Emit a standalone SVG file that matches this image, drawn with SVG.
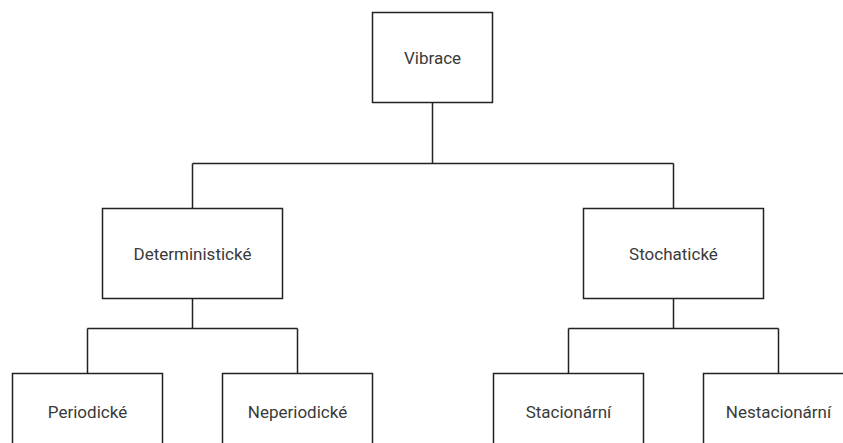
<svg xmlns="http://www.w3.org/2000/svg" width="843" height="443" viewBox="0 0 843 443">
  <style>
    .box { fill: #ffffff; stroke: #222222; stroke-width: 1.5; }
    .lbl { font-family: Roboto, "Liberation Sans", Arial, sans-serif; font-size: 17px; fill: #3a3a3a; text-anchor: middle; dominant-baseline: central; }
    .edge { fill: none; stroke: #222222; stroke-width: 1.5; }
  </style>
  <rect width="843" height="443" fill="#ffffff"/>
  <g id="connectors">
    <path class="edge" d="M432.5 102.5 V163.5 M192.5 163.5 H673.5 M192.5 163.5 V208.5 M673.5 163.5 V208.5"/>
    <path class="edge" d="M192.5 298.5 V328.5 M87.5 328.5 H297.5 M87.5 328.5 V373.5 M297.5 328.5 V373.5"/>
    <path class="edge" d="M673.5 298.5 V328.5 M568.5 328.5 H778.5 M568.5 328.5 V373.5 M778.5 328.5 V373.5"/>
  </g>
  <g id="vibrace">
    <rect class="box" x="372.5" y="12.5" width="120" height="90"/>
    <text class="lbl" x="432.5" y="58">Vibrace</text>
  </g>
  <g id="deterministicke">
    <rect class="box" x="102.5" y="208.5" width="180" height="90"/>
    <text class="lbl" x="192.5" y="254">Deterministické</text>
  </g>
  <g id="stochaticke">
    <rect class="box" x="583.5" y="208.5" width="180" height="90"/>
    <text class="lbl" x="673.5" y="254">Stochatické</text>
  </g>
  <g id="periodicke">
    <rect class="box" x="12.5" y="373.5" width="150" height="90"/>
    <text class="lbl" x="87.5" y="412">Periodické</text>
  </g>
  <g id="neperiodicke">
    <rect class="box" x="222.5" y="373.5" width="150" height="90"/>
    <text class="lbl" x="297.5" y="412">Neperiodické</text>
  </g>
  <g id="stacionarni">
    <rect class="box" x="493.5" y="373.5" width="150" height="90"/>
    <text class="lbl" x="568.5" y="412">Stacionární</text>
  </g>
  <g id="nestacionarni">
    <rect class="box" x="703.5" y="373.5" width="150" height="90"/>
    <text class="lbl" x="778.5" y="412">Nestacionární</text>
  </g>
</svg>
